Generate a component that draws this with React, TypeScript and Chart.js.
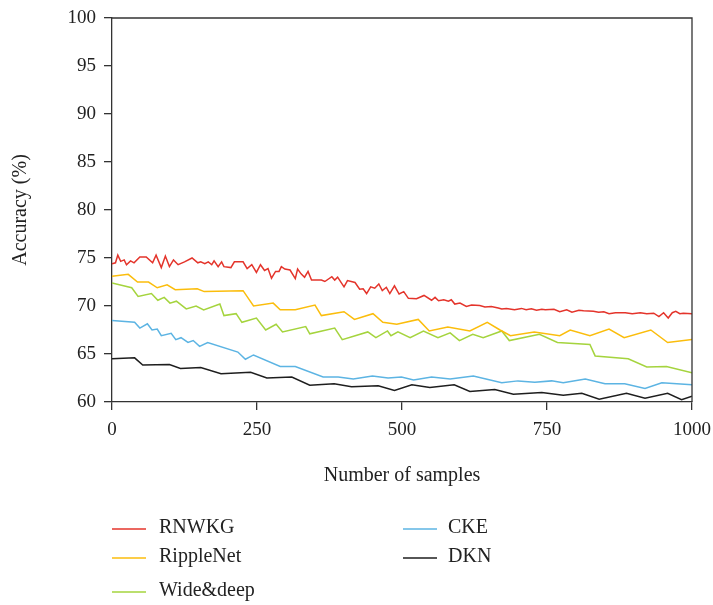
import { useEffect, useRef } from 'react';
import { Chart, registerables } from 'chart.js';

Chart.register(...registerables);

const seriesNames = ['RNWKG', 'RippleNet', 'Wide&deep', 'CKE', 'DKN'];
const seriesColors = ['#e4342b', '#fbbd0c', '#a5d43e', '#5cb4e3', '#1e1e1e'];

const rnwkgX = [0, 6, 10, 15, 21, 25, 32, 38, 48, 59, 70, 76, 85, 92, 99, 106, 114, 125, 138, 148, 153, 160, 166, 172, 176, 183, 189, 193, 205, 211, 226, 233, 241, 249, 256, 263, 269, 275, 282, 288, 292, 298, 307, 316, 320, 326, 332, 338, 344, 361, 367, 379, 384, 389, 400, 406, 419, 427, 433, 439, 446, 453, 460, 466, 473, 479, 487, 495, 503, 511, 525, 538, 551, 557, 563, 572, 580, 585, 591, 600, 611, 620, 634, 643, 654, 666, 672, 680, 694, 706, 714, 723, 732, 741, 747, 762, 772, 784, 793, 805, 813, 830, 839, 848, 857, 868, 885, 897, 911, 922, 934, 943, 951, 959, 966, 972, 979, 985, 1000];
const rnwkgY = [74.4, 74.5, 75.3, 74.65, 74.8, 74.3, 74.7, 74.5, 75.1, 75.1, 74.5, 75.3, 74.0, 75.2, 74.1, 74.8, 74.3, 74.6, 75.0, 74.5, 74.6, 74.4, 74.6, 74.3, 74.7, 74.1, 74.6, 74.1, 74.0, 74.6, 74.6, 73.9, 74.3, 73.5, 74.3, 73.7, 73.9, 72.9, 73.6, 73.6, 74.1, 73.85, 73.75, 72.85, 73.85, 73.35, 73.0, 73.6, 72.7, 72.7, 72.55, 73.05, 72.7, 73.0, 72.0, 72.65, 72.45, 71.75, 71.8, 71.3, 72.0, 71.85, 72.3, 71.6, 71.95, 71.3, 72.1, 71.25, 71.5, 70.8, 70.75, 71.1, 70.6, 70.9, 70.55, 70.65, 70.5, 70.65, 70.2, 70.3, 69.95, 70.1, 70.05, 69.9, 69.95, 69.8, 69.7, 69.75, 69.6, 69.75, 69.6, 69.7, 69.55, 69.65, 69.6, 69.65, 69.4, 69.6, 69.35, 69.55, 69.5, 69.45, 69.35, 69.4, 69.2, 69.3, 69.3, 69.2, 69.3, 69.2, 69.25, 68.9, 69.3, 68.75, 69.3, 69.45, 69.2, 69.25, 69.2];

const rippleX = [0, 28, 44, 63, 78, 95, 109, 147, 159, 226, 244, 278, 290, 316, 350, 361, 400, 418, 450, 467, 491, 528, 547, 579, 617, 647, 669, 687, 728, 772, 790, 824, 857, 883, 929, 958, 1000];
const rippleY = [73.1, 73.3, 72.5, 72.5, 71.9, 72.2, 71.7, 71.8, 71.5, 71.6, 70.0, 70.3, 69.6, 69.6, 70.1, 69.0, 69.4, 68.6, 69.2, 68.3, 68.1, 68.6, 67.4, 67.8, 67.4, 68.3, 67.5, 66.9, 67.3, 66.9, 67.5, 66.9, 67.6, 66.7, 67.5, 66.2, 66.5];

const wideX = [0, 34, 45, 68, 79, 90, 100, 111, 128, 145, 158, 186, 193, 214, 224, 249, 265, 283, 294, 334, 341, 384, 397, 441, 455, 475, 481, 493, 514, 537, 562, 583, 599, 622, 640, 672, 685, 737, 768, 824, 833, 890, 922, 956, 1000];
const wideY = [72.4, 71.9, 71.0, 71.3, 70.6, 70.9, 70.3, 70.5, 69.7, 70.0, 69.6, 70.2, 69.0, 69.2, 68.3, 68.75, 67.5, 68.1, 67.3, 67.85, 67.1, 67.7, 66.5, 67.3, 66.7, 67.4, 66.9, 67.3, 66.7, 67.4, 66.7, 67.2, 66.4, 67.05, 66.7, 67.4, 66.4, 67.05, 66.2, 66.0, 64.8, 64.5, 63.65, 63.7, 63.05];

const ckeX = [0, 39, 48, 61, 69, 78, 85, 102, 110, 119, 131, 140, 151, 165, 217, 230, 244, 290, 316, 364, 390, 416, 449, 476, 499, 520, 551, 583, 623, 672, 700, 729, 758, 778, 816, 850, 884, 919, 948, 1000];
const ckeY = [68.5, 68.3, 67.7, 68.15, 67.5, 67.6, 66.9, 67.15, 66.5, 66.7, 66.2, 66.4, 65.8, 66.2, 65.2, 64.45, 64.9, 63.7, 63.7, 62.6, 62.6, 62.4, 62.7, 62.5, 62.6, 62.3, 62.6, 62.4, 62.7, 62.0, 62.2, 62.05, 62.2, 62.0, 62.4, 61.9, 61.9, 61.4, 62.0, 61.8];

const dknX = [0, 39, 53, 99, 118, 153, 188, 239, 267, 310, 341, 383, 413, 459, 487, 517, 548, 590, 617, 660, 692, 741, 778, 810, 840, 887, 919, 958, 982, 1000];
const dknY = [64.5, 64.6, 63.85, 63.9, 63.5, 63.6, 62.95, 63.1, 62.5, 62.6, 61.75, 61.9, 61.6, 61.7, 61.2, 61.8, 61.5, 61.8, 61.1, 61.3, 60.8, 61.0, 60.7, 60.9, 60.3, 60.9, 60.4, 60.9, 60.25, 60.6];

const seriesX = [rnwkgX, rippleX, wideX, ckeX, dknX];
const seriesY = [rnwkgY, rippleY, wideY, ckeY, dknY];

const FONT = '"Liberation Serif", "Times New Roman", serif';
const AXIS_COLOR = '#333333';
const TEXT_COLOR = '#222222';

const boxPlugin = {
  id: 'boxPlugin',
  afterDatasetsDraw(chart: any) {
    const { ctx, chartArea } = chart;
    ctx.save();
    ctx.strokeStyle = AXIS_COLOR;
    ctx.lineWidth = 1.3;
    ctx.beginPath();
    ctx.moveTo(chartArea.left, chartArea.top);
    ctx.lineTo(chartArea.right, chartArea.top);
    ctx.lineTo(chartArea.right, chartArea.bottom);
    ctx.stroke();
    ctx.restore();
  },
};

const legendPlugin = {
  id: 'customLegend',
  afterDraw(chart: any) {
    const { ctx } = chart;
    const cols = [
      { lineX: 112, textX: 159 },
      { lineX: 403, textX: 448 },
    ];
    const rowsY = [529, 558, 592];
    const slots = [
      [0, 0], [0, 1], [0, 2], [1, 0], [1, 1],
    ];
    ctx.save();
    ctx.font = `20px ${FONT}`;
    ctx.textBaseline = 'middle';
    ctx.textAlign = 'left';
    chart.data.datasets.forEach((ds: any, i: number) => {
      const [c, r] = slots[i];
      const y = rowsY[r];
      const col = cols[c];
      ctx.strokeStyle = ds.borderColor;
      ctx.lineWidth = 1.5;
      ctx.beginPath();
      ctx.moveTo(col.lineX, y);
      ctx.lineTo(col.lineX + 34, y);
      ctx.stroke();
      ctx.fillStyle = TEXT_COLOR;
      ctx.fillText(ds.label, col.textX, y - 1);
    });
    ctx.restore();
  },
};

export default function App() {
  const ref = useRef<HTMLCanvasElement>(null);
  useEffect(() => {
    if (!ref.current) return;
    const datasets = seriesNames.map((name, i) => ({
      label: name,
      data: seriesX[i].map((x, j) => ({ x, y: seriesY[i][j] })),
      borderColor: seriesColors[i],
      backgroundColor: seriesColors[i],
      borderWidth: 1.5,
      pointRadius: 0,
      tension: 0,
      fill: false,
    }));
    const chart = new Chart(ref.current, {
      type: 'line',
      data: { datasets },
      options: {
        animation: false,
        responsive: false,
        maintainAspectRatio: false,
        layout: { padding: { top: 18, right: 21, bottom: 117, left: 0 } },
        plugins: {
          legend: { display: false },
          tooltip: { enabled: false },
        },
        scales: {
          x: {
            type: 'linear',
            min: 0,
            max: 1000,
            ticks: {
              stepSize: 250,
              color: TEXT_COLOR,
              font: { family: FONT, size: 19 },
              padding: 9,
              maxRotation: 0,
              callback: (v: any) => String(v),
            },
            grid: {
              drawOnChartArea: false,
              drawTicks: true,
              tickLength: 8,
              color: AXIS_COLOR,
              lineWidth: 1.3,
            },
            border: { display: true, color: AXIS_COLOR, width: 1.3 },
            title: {
              display: true,
              text: 'Number of samples',
              color: TEXT_COLOR,
              font: { family: FONT, size: 20 },
              padding: { top: 0, bottom: 0 },
            },
            afterFit(scale: any) {
              scale.height = 86;
              scale.paddingLeft = 0;
              scale.paddingRight = 0;
            },
          },
          y: {
            type: 'linear',
            min: 60,
            max: 100,
            ticks: {
              stepSize: 5,
              color: TEXT_COLOR,
              font: { family: FONT, size: 19 },
              padding: 8,
            },
            grid: {
              drawOnChartArea: false,
              drawTicks: true,
              tickLength: 8,
              color: AXIS_COLOR,
              lineWidth: 1.3,
            },
            border: { display: true, color: AXIS_COLOR, width: 1.3 },
            title: {
              display: true,
              text: 'Accuracy (%)',
              color: TEXT_COLOR,
              font: { family: FONT, size: 20 },
              padding: { top: 9, bottom: 0 },
            },
            afterFit(scale: any) {
              scale.width = 112;
              scale.paddingTop = 0;
              scale.paddingBottom = 0;
            },
          },
        },
      },
      plugins: [boxPlugin, legendPlugin],
    });
    return () => chart.destroy();
  }, []);
  return (
    <canvas
      ref={ref}
      width={713}
      height={605}
      style={{ position: 'absolute', left: 0, top: 0, width: 713, height: 605 }}
    />
  );
}
